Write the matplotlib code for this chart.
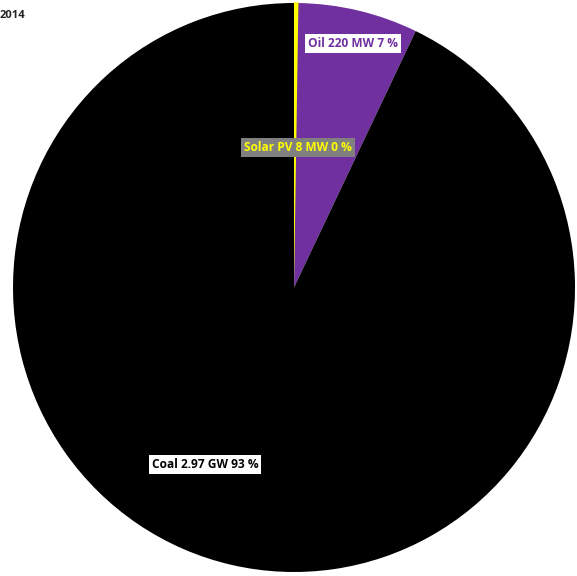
import matplotlib.pyplot as plt

plt.rcParams['font.family'] = ['Open Sans', 'DejaVu Sans']

# Data
sources = ["Solar PV", "Oil", "Coal"]
capacity_mw = [8, 220, 2970]
labels = ["Solar PV 8 MW 0 %", "Oil 220 MW 7 %", "Coal 2.97 GW 93 %"]
colors = ["#FFFF00", "#7030A0", "#000000"]

fig = plt.figure(figsize=(5.77, 5.76), dpi=100)
fig.patch.set_facecolor("white")

# axes placed to match the pie footprint in pixels
W, H = 577, 576
left, right, top, bottom = 13, 575, 3, 572
ax = fig.add_axes([left / W, 1 - bottom / H, (right - left) / W, (bottom - top) / H])

wedges, _ = ax.pie(capacity_mw, colors=colors, startangle=90, counterclock=False,
                   radius=1.0, wedgeprops=dict(linewidth=0))
wedges[0].set_edgecolor("#FFFF00")
wedges[0].set_linewidth(1.0)

ax.set_xlim(-1.0, 1.0)
ax.set_ylim(-1.0, 1.0)
ax.set_aspect("auto")
ax.axis("off")

# data labels
label_pos = [(0.014, 0.492), (0.21, 0.858), (-0.317, -0.622)]
text_colors = ["#FFFF00", "#7030A0", "#000000"]
box_colors = ["#808080", "#FFFFFF", "#FFFFFF"]
for lab, (x, y), tc, bc in zip(labels, label_pos, text_colors, box_colors):
    ax.text(x, y, lab, ha="center", va="center", fontsize=8.6, fontweight="bold",
            color=tc, bbox=dict(boxstyle="square,pad=0.25", facecolor=bc, edgecolor="none"))

fig.text(0.0, 1 - 15 / H, "2014", ha="left", va="center", fontsize=8,
         fontweight="bold", color="#222222")

fig.savefig("out.png", dpi=100, facecolor="white")
